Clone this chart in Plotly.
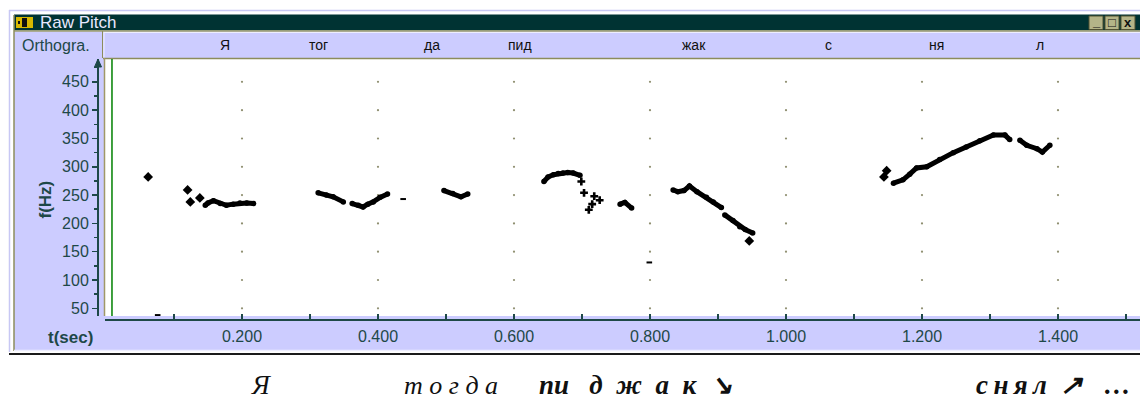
import plotly.graph_objects as go

W, H = 1140, 408

# ---------------- data ----------------
# continuous pitch contours (None = break between segments)
contour_t = [0.146, 0.150, 0.158, 0.168, 0.177, 0.187, 0.197, 0.207, 0.217, None,
             0.312, 0.324, 0.334, 0.349, None,
             0.362, 0.371, 0.378, 0.385, 0.393, 0.403, 0.414, None,
             0.497, 0.510, 0.522, 0.532, None,
             0.644, 0.650, 0.658, 0.665, 0.672, 0.679, 0.687, 0.697, None,
             0.756, 0.763, 0.773, None,
             0.834, 0.841, 0.850, 0.858, 0.869, 0.883, 0.893, 0.905, None,
             0.910, 0.922, 0.932, 0.940, 0.951, None,
             1.158, 1.172, 1.182, 1.192, 1.207, 1.226, 1.246, 1.265, 1.285, 1.305, 1.322, 1.329, None,
             1.344, 1.354, 1.369, 1.377, 1.388]
contour_f = [232, 236, 240, 235, 232, 234, 236, 236, 235, None,
             254, 250, 247, 238, None,
             235, 232, 229, 234, 238, 246, 252, None,
             258, 253, 247, 252, None,
             274, 282, 286, 288, 289, 290, 289, 285, None,
             234, 237, 227, None,
             259, 256, 258, 266, 256, 246, 238, 228, None,
             215, 205, 194, 189, 183, None,
             271, 277, 287, 298, 300, 313, 325, 335, 346, 356, 356, 348, None,
             347, 338, 332, 326, 338]

# isolated pitch points
dots_t = [0.062, 0.120, 0.124, 0.138, 0.946, 1.144, 1.148]
dots_f = [282, 259, 238, 245, 169, 282, 293]

# "+"-shaped points after "пид"
cross_t = [0.699, 0.703, 0.718, 0.726, 0.715, 0.710]
cross_f = [274, 254, 248, 241, 234, 224]

# tiny marks
tiny_t = [0.076, 0.437, 0.799]
tiny_f = [38, 243, 131]

# axes
x_ticks = [0.0, 0.1, 0.2, 0.3, 0.4, 0.5, 0.6, 0.7, 0.8, 0.9, 1.0, 1.1, 1.2, 1.3, 1.4, 1.5]
x_labels = ["", "", "0.200", "", "0.400", "", "0.600", "", "0.800", "", "1.000", "", "1.200", "", "1.400", ""]
y_ticks = [50, 100, 150, 200, 250, 300, 350, 400, 450]
grid_t = [0.2, 0.4, 0.6, 0.8, 1.0, 1.2, 1.4]

# orthographic tier
ortho_t = [0.175, 0.312, 0.479, 0.609, 0.865, 1.062, 1.222, 1.374]
ortho_txt = ["Я", "тог", "да", "пид", "жак", "с", "ня", "л"]

cursor_t = 0.0088

# caption under the window
NB = "\u00a0"
TH = "\u2009"
caption_plain = ["Я", f"т{NB}о{NB}г{NB}д{NB}а"]
caption_bold = [f"пи{NB}{NB}{NB}д{NB}{NB}ж{NB}{NB}а{NB}{NB}к{NB}{NB}↘",
                f"с{TH}н{TH}я{TH}л{NB}{NB}↗{NB}{NB}{NB}…"]

# ---------------- helpers ----------------
def px(x):
    return x / W

def py(y):
    return 1 - y / H

TEAL = "#1E4848"
LAV = "#CCCCFF"
OLIVE = "#8C8C5C"

fig = go.Figure()

# grid dots
gx, gy = [], []
for t in grid_t:
    for f in y_ticks:
        gx.append(t)
        gy.append(f)
fig.add_trace(go.Scatter(x=gx, y=gy, mode="markers",
                         marker=dict(size=2.2, color="#8F8F70"), hoverinfo="skip"))

fig.add_trace(go.Scatter(x=contour_t, y=contour_f, mode="lines+markers",
                         line=dict(color="black", width=5),
                         marker=dict(size=5.5, color="black"),
                         connectgaps=False, hoverinfo="skip"))
fig.add_trace(go.Scatter(x=dots_t, y=dots_f, mode="markers",
                         marker=dict(size=7.5, symbol="diamond", color="black"), hoverinfo="skip"))
fig.add_trace(go.Scatter(x=cross_t, y=cross_f, mode="markers",
                         marker=dict(size=6.5, symbol="cross", color="black"), hoverinfo="skip"))
fig.add_trace(go.Scatter(x=tiny_t, y=tiny_f, mode="markers",
                         marker=dict(size=4, symbol="line-ew", color="black",
                                     line=dict(width=2, color="black")), hoverinfo="skip"))

shapes = []

def rect(x0, y0, x1, y1, fill, line=None, lw=0):
    shapes.append(dict(type="rect", xref="paper", yref="paper",
                       x0=px(x0), x1=px(x1), y0=py(y0), y1=py(y1),
                       fillcolor=fill, line=dict(width=lw, color=line or fill),
                       layer="below"))

def hline(x0, x1, y, color, w=1):
    shapes.append(dict(type="line", xref="paper", yref="paper",
                       x0=px(x0), x1=px(x1), y0=py(y), y1=py(y),
                       line=dict(color=color, width=w), layer="above"))

def vline(x, y0, y1, color, w=1):
    shapes.append(dict(type="line", xref="paper", yref="paper",
                       x0=px(x), x1=px(x), y0=py(y0), y1=py(y1),
                       line=dict(color=color, width=w), layer="above"))

# window frame
hline(9, 1140, 10.5, "#C8C8F4", 1.5)
vline(9.5, 10, 352, "#C8C8F4", 1.5)
rect(14, 31, 1140, 350, LAV)
rect(104.5, 59, 1140, 316, "white")
rect(14, 14.5, 1140, 30.5, "#003333")
hline(14, 1140, 31, "#A0A070", 1.5)
vline(14, 15, 351, OLIVE, 1.5)
# Orthogra box
vline(102.5, 31, 58, OLIVE, 1)
# ortho band
hline(104, 1140, 32.5, "#EEEEFF", 1)
vline(104, 32, 58, "#EEEEFF", 1)
hline(103, 1140, 58.5, OLIVE, 1.5)
# plot left border + cursor
vline(104.5, 58, 316, "#A09868", 1.5)
shapes.append(dict(type="line", xref="x", yref="paper", x0=cursor_t, x1=cursor_t,
                   y0=py(316), y1=py(59), line=dict(color="#008000", width=1.5)))
# bottom
hline(14, 1140, 350.5, "#EEEEFF", 1.5)
hline(9, 1140, 354, "#1A1A1A", 2)
# y axis arrow
shapes.append(dict(type="path", xref="paper", yref="paper",
                   path=f"M {px(98)} {py(59)} L {px(94.5)} {py(67)} L {px(101.5)} {py(67)} Z",
                   fillcolor=TEAL, line=dict(color=TEAL, width=1)))
# title icon
rect(16, 17, 33, 28, "#D8B800")
rect(22, 18, 27, 27, "#101010")
rect(18, 21, 20, 24, "#101010")
# window buttons
for bx in [1089, 1105, 1121]:
    rect(bx, 16, bx + 14, 29.5, "#B4B488", "#505030", 1)

annotations = []

def text(x, y, s, size, color, xanchor="center", bold=False, italic=False,
         family="Liberation Sans, Arial", xref="paper"):
    t = s
    if bold:
        t = f"<b>{t}</b>"
    if italic:
        t = f"<i>{t}</i>"
    annotations.append(dict(x=x if xref == "x" else px(x), y=py(y), xref=xref, yref="paper",
                            text=t, showarrow=False, xanchor=xanchor, yanchor="middle",
                            font=dict(size=size, color=color, family=family)))

text(38, 22.5, "Raw Pitch", 17, "#E8E8FF", xanchor="left")
text(1096, 21, "_", 13, "#101010", bold=True)
text(1112, 22.5, "□", 13, "#101010", bold=True)
text(1128, 22, "x", 13, "#101010", bold=True)
text(20, 45, "Orthogra.", 16, TEAL, xanchor="left")
for t, s in zip(ortho_t, ortho_txt):
    text(t, 45, s, 14, "#101010", xref="x")

text(70, 337, "t(sec)", 17, TEAL, bold=True)
annotations.append(dict(x=px(33), y=py(200), xref="paper", yref="paper", text="<b>f(Hz)</b>",
                        showarrow=False, textangle=-90, font=dict(size=17, color=TEAL,
                        family="Liberation Sans, Arial")))

# caption below the window
SERIF = "Liberation Serif, Times New Roman"
text(249, 385, caption_plain[0], 27, "#101010", xanchor="left", italic=True, family=SERIF)
text(402, 385, caption_plain[1], 26, "#101010", xanchor="left", italic=True, family=SERIF)
text(537, 385, caption_bold[0], 27, "#101010", xanchor="left", bold=True, italic=True, family=SERIF)
text(974, 385, caption_bold[1], 27, "#101010", xanchor="left", bold=True, italic=True, family=SERIF)

fig.update_layout(
    width=W, height=H, autosize=False,
    margin=dict(l=0, r=0, t=0, b=0, pad=0),
    paper_bgcolor="white", plot_bgcolor="white",
    showlegend=False, hovermode=False,
    shapes=shapes, annotations=annotations,
    xaxis=dict(domain=[px(105), 1.0], range=[(105 - 106) / 680, (1140 - 106) / 680],
               anchor="free", position=py(320),
               showline=True, linecolor=TEAL, linewidth=2,
               ticks="inside", ticklen=5, tickwidth=1.5, tickcolor=TEAL,
               tickvals=x_ticks, ticktext=x_labels, ticklabelstandoff=2,
               tickfont=dict(size=16, color=TEAL, family="Liberation Sans, Arial"),
               showgrid=False, zeroline=False, fixedrange=True),
    yaxis=dict(domain=[py(316), py(59)], range=[36.4, 490.4],
               anchor="free", position=px(98),
               showline=True, linecolor=TEAL, linewidth=2,
               ticks="outside", ticklen=5, tickwidth=1.5, tickcolor=TEAL,
               tickvals=y_ticks, ticktext=[str(v) for v in y_ticks],
               tickfont=dict(size=16, color=TEAL, family="Liberation Sans, Arial"),
               minor=dict(ticks="outside", ticklen=3, tickcolor=TEAL, dtick=25, tick0=0),
               showgrid=False, zeroline=False, fixedrange=True),
)

fig.write_html("out.html",
               config={"displayModeBar": False, "staticPlot": True},
               post_script="document.body.style.margin='0';document.body.style.overflow='hidden';")
